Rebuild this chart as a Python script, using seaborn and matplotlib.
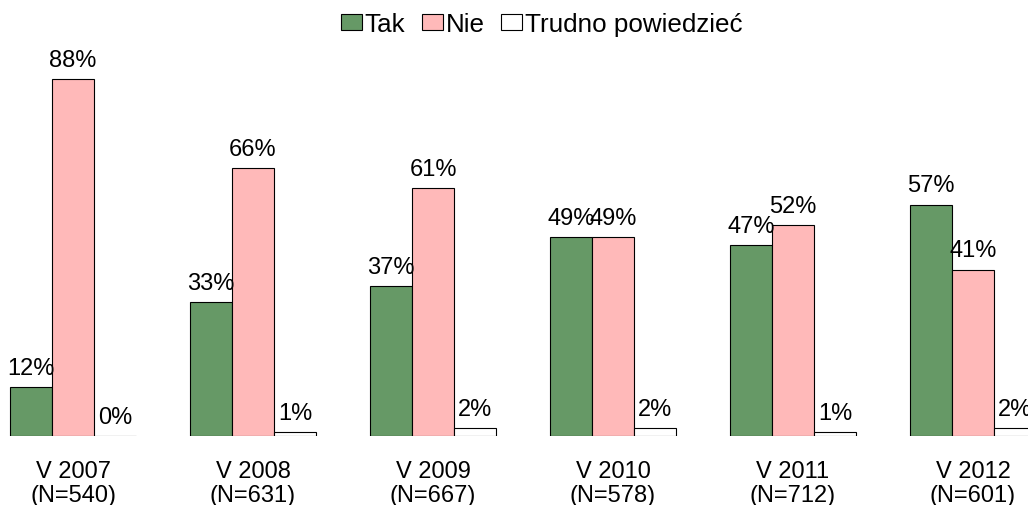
import matplotlib
matplotlib.use("Agg")
import matplotlib.pyplot as plt
import seaborn as sns
import pandas as pd

waves = ["V 2007\n(N=540)", "V 2008\n(N=631)", "V 2009\n(N=667)",
         "V 2010\n(N=578)", "V 2011\n(N=712)", "V 2012\n(N=601)"]
series = ["Tak", "Nie", "Trudno powiedzieć"]
tak = [12, 33, 37, 49, 47, 57]
nie = [88, 66, 61, 49, 52, 41]
trudno = [0, 1, 2, 2, 1, 2]
colors = ["#669966", "#ffb9b9", "#ffffff"]

rows = []
for i, w in enumerate(waves):
    for s, vals in zip(series, [tak, nie, trudno]):
        rows.append({"wave": w, "series": s, "value": vals[i]})
df = pd.DataFrame(rows)

sns.set_theme(style="white")
plt.rcParams['font.family'] = ['Liberation Sans', 'DejaVu Sans']
plt.rcParams['text.color'] = 'black'
plt.rcParams['xtick.color'] = 'black'

fig = plt.figure(figsize=(10.28, 5.06), dpi=100)
ax = fig.add_axes([0, 69 / 506, 1, 1 - 69 / 506])
sns.barplot(data=df, x="wave", y="value", hue="series", hue_order=series,
            order=waves, palette=colors, width=0.7, gap=0, edgecolor="black",
            linewidth=0.8, saturation=1, ax=ax, legend=True)

for c in ax.containers:
    ax.bar_label(c, fmt="%d%%", padding=6, fontsize=17, color="black")

ax.set_xlim(-0.4056, 5.3056)
ax.set_ylim(0, 107.7)
ax.set_xlabel("")
ax.set_ylabel("")
ax.set_yticks([])
ax.tick_params(axis="x", length=0, pad=17, labelsize=17, labelcolor="black")
for lab in ax.get_xticklabels():
    lab.set_linespacing(1.12)
for sp in ax.spines.values():
    sp.set_visible(False)

leg = ax.legend(loc="upper center", bbox_to_anchor=(0.527, 1.005), ncol=3,
                frameon=False, fontsize=18.7, handlelength=0.8, handleheight=0.6,
                handletextpad=0.1, columnspacing=0.65, borderaxespad=0.2)
for t in leg.get_texts():
    t.set_color("black")

fig.savefig("out.png", dpi=100)
